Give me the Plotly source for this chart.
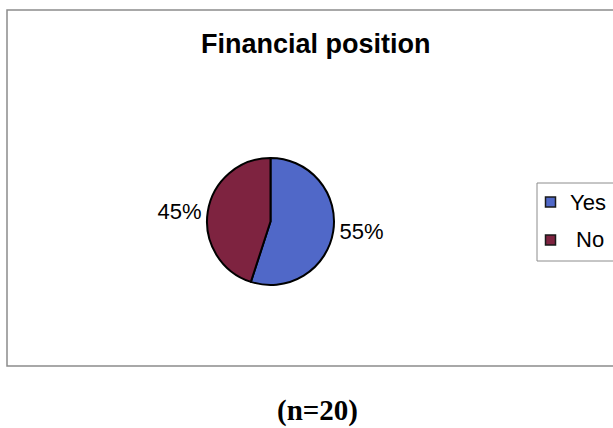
import plotly.graph_objects as go

# Survey result: financial position (n=20)
labels = ["Yes", "No"]
values = [55, 45]
colors = ["#5068C8", "#7E2340"]
title_text = "Financial position"
note_text = "(n=20)"

W, H = 613, 428


def px(x):
    return x / W


def py(y):
    return 1 - y / H


fig = go.Figure()

fig.add_trace(go.Pie(
    labels=labels,
    values=values,
    sort=False,
    direction="clockwise",
    rotation=0,
    marker=dict(colors=colors, line=dict(color="#000000", width=2)),
    textinfo="percent",
    texttemplate="%{percent:.0%}",
    textposition="outside",
    outsidetextfont=dict(family="Arial, Liberation Sans", size=22, color="#000000"),
    showlegend=False,
    hoverinfo="label+percent",
    domain=dict(x=[px(207), px(334)], y=[py(285), py(158)]),
))

shapes = [
    # chart area border
    dict(type="rect", xref="paper", yref="paper",
         x0=px(7), x1=px(640), y0=py(366), y1=py(10),
         line=dict(color="#8c8c8c", width=1.5), fillcolor="rgba(0,0,0,0)"),
    # legend box
    dict(type="rect", xref="paper", yref="paper",
         x0=px(537), x1=px(640), y0=py(261), y1=py(183),
         line=dict(color="#8c8c8c", width=1), fillcolor="#ffffff"),
]

annotations = [
    dict(text="<b>%s</b>" % title_text, xref="paper", yref="paper",
         x=px(316), y=py(44), showarrow=False, xanchor="center", yanchor="middle",
         font=dict(family="Arial, Liberation Sans", size=27, color="#000000")),
    dict(text="<b>%s</b>" % note_text, xref="paper", yref="paper",
         x=px(317), y=py(410), showarrow=False, xanchor="center", yanchor="middle",
         font=dict(family="Liberation Serif, Times New Roman", size=29, color="#000000")),
]

# hand-built legend entries with wider spacing
legend_rows = [202, 240]
legend_text_x = [568, 574]
for lab, col, ry, tx in zip(labels, colors, legend_rows, legend_text_x):
    shapes.append(dict(type="rect", xref="paper", yref="paper",
                       x0=px(545.5), x1=px(555.5), y0=py(ry + 5), y1=py(ry - 5),
                       line=dict(color="#1a1a1a", width=1.5), fillcolor=col))
    annotations.append(dict(text=lab, xref="paper", yref="paper",
                            x=px(tx), y=py(ry), showarrow=False,
                            xanchor="left", yanchor="middle",
                            font=dict(family="Arial, Liberation Sans", size=22,
                                      color="#000000")))

fig.update_layout(
    width=W, height=H,
    margin=dict(l=0, r=0, t=0, b=0),
    paper_bgcolor="#ffffff",
    plot_bgcolor="#ffffff",
    shapes=shapes,
    annotations=annotations,
)

fig.write_html("out.html")
